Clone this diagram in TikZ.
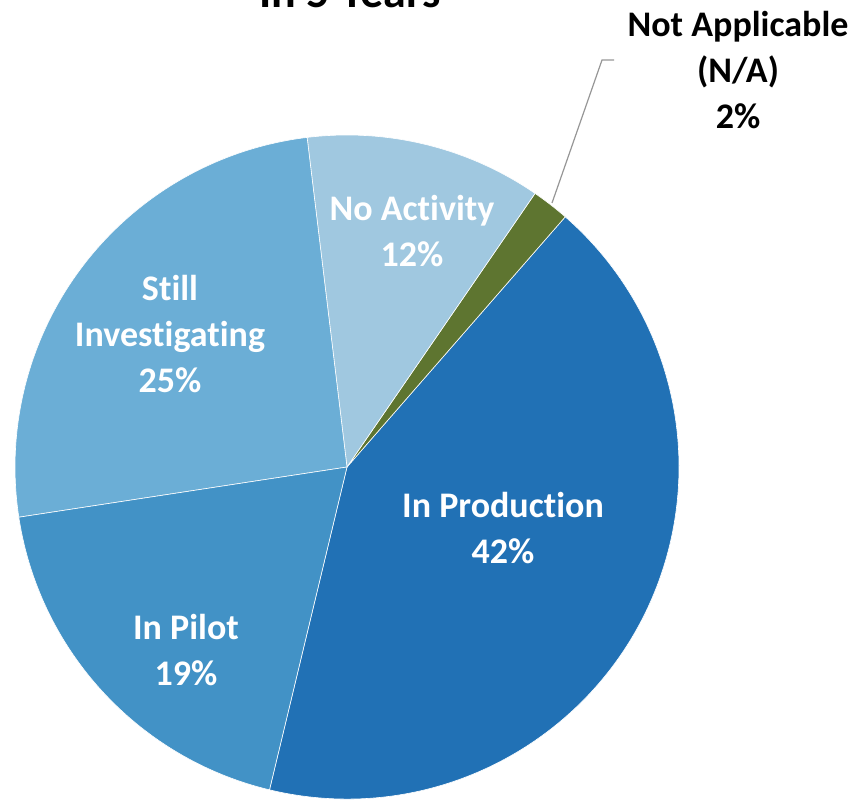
\documentclass[tikz,border=0pt]{standalone}
\usepackage{fontspec}
\setmainfont[Ligatures=NoCommon]{Carlito}
\usepackage{tikz}
\usetikzlibrary{positioning,calc}

\definecolor{prodblue}{RGB}{33,113,181}
\definecolor{pilotblue}{RGB}{66,146,198}
\definecolor{investblue}{RGB}{107,174,214}
\definecolor{noactblue}{RGB}{160,200,224}
\definecolor{naolive}{RGB}{94,117,48}
\definecolor{leadgray}{RGB}{150,150,150}

\tikzset{
  slicelabel/.style={text=white, align=center, font=\fontsize{36}{46}\selectfont\bfseries},
  outlabel/.style={text=black, align=center, font=\fontsize{36}{46}\selectfont\bfseries},
  leader/.style={draw=leadgray, line width=1.2pt}
}

\begin{document}
\begin{tikzpicture}[x=1pt, y=1pt, >=latex, every node/.style={inner sep=0pt}]
    \useasboundingbox (0,0) rectangle (858,-800);
    \clip (0,0) rectangle (858,-800);
    % title (cut by the frame)
    \node[anchor=base, font=\fontsize{46}{52}\selectfont\bfseries] (title) at (350,-8) {In 5 Years};
    % pie
    \coordinate (centre) at (347,-467);
    \foreach \a/\b/\c in {-103.5/48.9/prodblue, 48.9/55.5/naolive, 55.5/96.9/noactblue,
                          96.9/188.7/investblue, 188.7/256.5/pilotblue} {
      \filldraw[fill=\c, draw=white, line width=0.6pt]
        (centre) -- ($(centre)+(\a:332)$) arc (\a:\b:332) -- cycle;
    }
    % labels
    \node[slicelabel] (noact) at (412,-231) {No Activity\\12\%};
    \node[slicelabel] (invest) at (170,-334) {Still\\Investigating\\25\%};
    \node[slicelabel] (prod) at (503,-528) {In Production\\42\%};
    \node[slicelabel] (pilot) at (186,-650) {In Pilot\\19\%};
    \node[outlabel] (na) at (738,-70) {Not Applicable\\(N/A)\\2\%};
    % leader line
    \coordinate (naTip) at (552,-203);
    \coordinate (naBend) at (602,-60);
    \coordinate (naEnd) at (614,-60);
    \draw[leader] (naTip) -- (naBend) -- (naEnd);
\end{tikzpicture}
\end{document}
